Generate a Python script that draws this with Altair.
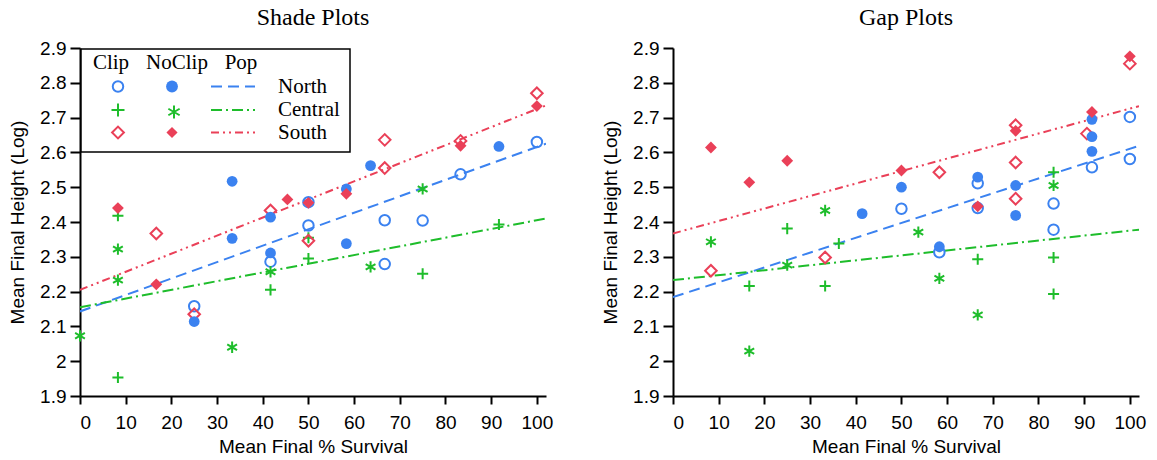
import altair as alt
import pandas as pd

# ---------------- data ----------------
pops = ["North", "Central", "South"]
pop_colors = ["#3b82f0", "#1ebd2b", "#ea4058"]

# Shade plots (left panel)
shade_clip_north_x = [25, 41.7, 50, 50, 66.7, 66.7, 75, 83.3, 100]
shade_clip_north_y = [2.158, 2.286, 2.39, 2.457, 2.405, 2.279, 2.404, 2.537, 2.63]
shade_noclip_north_x = [25, 33.3, 33.3, 41.7, 41.7, 58.3, 58.3, 63.6, 91.7]
shade_noclip_north_y = [2.114, 2.517, 2.353, 2.414, 2.311, 2.495, 2.338, 2.562, 2.617]
shade_clip_central_x = [8.3, 8.3, 41.7, 50, 50, 75, 91.7]
shade_clip_central_y = [2.418, 1.953, 2.205, 2.355, 2.295, 2.251, 2.393]
shade_noclip_central_x = [0, 8.3, 8.3, 33.3, 41.7, 63.6, 75]
shade_noclip_central_y = [2.073, 2.322, 2.233, 2.04, 2.257, 2.271, 2.495]
shade_clip_south_x = [16.7, 25, 41.7, 50, 66.7, 66.7, 83.3, 100]
shade_clip_south_y = [2.367, 2.135, 2.433, 2.346, 2.636, 2.555, 2.633, 2.77]
shade_noclip_south_x = [8.3, 16.7, 45.4, 50, 58.3, 83.3, 100]
shade_noclip_south_y = [2.44, 2.221, 2.465, 2.455, 2.481, 2.619, 2.733]

# Gap plots (right panel)
gap_clip_north_x = [50, 58.3, 66.7, 66.7, 83.3, 83.3, 91.7, 100, 100]
gap_clip_north_y = [2.438, 2.313, 2.511, 2.44, 2.453, 2.378, 2.557, 2.702, 2.581]
gap_noclip_north_x = [41.4, 50, 58.3, 66.7, 75, 75, 91.7, 91.7, 91.7]
gap_noclip_north_y = [2.424, 2.5, 2.329, 2.529, 2.505, 2.419, 2.695, 2.645, 2.603]
gap_clip_central_x = [16.7, 25, 33.3, 36.3, 66.7, 83.3, 83.3, 83.3]
gap_clip_central_y = [2.216, 2.381, 2.216, 2.338, 2.293, 2.543, 2.298, 2.193]
gap_noclip_central_x = [8.3, 16.7, 25, 33.3, 53.7, 58.3, 66.7, 83.3]
gap_noclip_central_y = [2.343, 2.029, 2.276, 2.433, 2.371, 2.238, 2.133, 2.505]
gap_clip_south_x = [8.3, 33.3, 58.3, 75, 75, 75, 90.6, 100]
gap_clip_south_y = [2.26, 2.298, 2.543, 2.678, 2.571, 2.467, 2.654, 2.855]
gap_noclip_south_x = [8.3, 16.7, 25, 50, 66.7, 75, 91.7, 100]
gap_noclip_south_y = [2.614, 2.514, 2.576, 2.548, 2.445, 2.662, 2.716, 2.876]

# regression lines: value at x = line_x[0] and line_x[1]
line_x = [0, 102]
shade_line_north = [2.143, 2.625]
shade_line_central = [2.155, 2.41]
shade_line_south = [2.205, 2.735]
gap_line_north = [2.184, 2.619]
gap_line_central = [2.233, 2.378]
gap_line_south = [2.367, 2.733]

x_ticks = list(range(0, 101, 10))
y_ticks = [1.9, 2.0, 2.1, 2.2, 2.3, 2.4, 2.5, 2.6, 2.7, 2.8, 2.9]

# ---------------- styles ----------------
PLUS = "M-1,0L1,0M0,-1L0,1"
AST = "M0,-1L0,1M-0.866,-0.5L0.866,0.5M-0.866,0.5L0.866,-0.5"
syms = ["Clip-North", "NoClip-North", "Clip-Central", "NoClip-Central", "Clip-South", "NoClip-South"]
sym_shapes = ["circle", "circle", PLUS, AST, "diamond", "diamond"]
sym_sizes = [110, 140, 169, 169, 140, 125]
dashes = [[11, 6], [11, 4, 2, 4], [8, 4, 2, 4, 2, 4]]

SERIF = "Liberation Serif"
SANS = "Liberation Sans"
W, H = 466, 348


def points_df(series):
    rows = []
    for grp, pop, xs, ys in series:
        for xv, yv in zip(xs, ys):
            rows.append({"x": xv, "y": yv, "pop": pop, "grp": grp, "sym": f"{grp}-{pop}"})
    return pd.DataFrame(rows)


def lines_df(lines):
    rows = []
    for pop, ys in lines:
        for xv, yv in zip(line_x, ys):
            rows.append({"x": xv, "y": yv, "pop": pop})
    return pd.DataFrame(rows)


shade_pts = points_df([
    ("Clip", "North", shade_clip_north_x, shade_clip_north_y),
    ("NoClip", "North", shade_noclip_north_x, shade_noclip_north_y),
    ("Clip", "Central", shade_clip_central_x, shade_clip_central_y),
    ("NoClip", "Central", shade_noclip_central_x, shade_noclip_central_y),
    ("Clip", "South", shade_clip_south_x, shade_clip_south_y),
    ("NoClip", "South", shade_noclip_south_x, shade_noclip_south_y),
])
gap_pts = points_df([
    ("Clip", "North", gap_clip_north_x, gap_clip_north_y),
    ("NoClip", "North", gap_noclip_north_x, gap_noclip_north_y),
    ("Clip", "Central", gap_clip_central_x, gap_clip_central_y),
    ("NoClip", "Central", gap_noclip_central_x, gap_noclip_central_y),
    ("Clip", "South", gap_clip_south_x, gap_clip_south_y),
    ("NoClip", "South", gap_noclip_south_x, gap_noclip_south_y),
])
shade_lines = lines_df([("North", shade_line_north), ("Central", shade_line_central), ("South", shade_line_south)])
gap_lines = lines_df([("North", gap_line_north), ("Central", gap_line_central), ("South", gap_line_south)])

X = alt.X("x:Q", scale=alt.Scale(domain=[0, 102], nice=False, zero=False),
          axis=alt.Axis(values=x_ticks, title="Mean Final % Survival", tickSize=8,
                        labelPadding=9, titlePadding=5))
Y = alt.Y("y:Q", scale=alt.Scale(domain=[1.9, 2.9], nice=False, zero=False),
          axis=alt.Axis(values=y_ticks, format=".1~f", title="Mean Final Height (Log)",
                        tickSize=10, labelPadding=4, titlePadding=12))
COLOR = alt.Color("pop:N", scale=alt.Scale(domain=pops, range=pop_colors), legend=None)
SHAPE = alt.Shape("sym:N", scale=alt.Scale(domain=syms, range=sym_shapes), legend=None)
SIZE = alt.Size("sym:N", scale=alt.Scale(domain=syms, range=sym_sizes), legend=None)
DASH = alt.StrokeDash("pop:N", scale=alt.Scale(domain=pops, range=dashes), legend=None)


def panel(pts, lns, title, legend=False):
    lines = alt.Chart(lns).mark_line(strokeWidth=2, clip=True).encode(
        x=X, y=Y, color=COLOR, strokeDash=DASH, detail="pop:N")
    stroked = alt.Chart(pts).transform_filter(
        "datum.grp == 'Clip' || datum.pop == 'Central'").mark_point(
        filled=False, strokeWidth=2, opacity=1).encode(
        x=X, y=Y, color=COLOR, shape=SHAPE, size=SIZE)
    filled = alt.Chart(pts).transform_filter(
        "datum.grp == 'NoClip' && datum.pop != 'Central'").mark_point(
        filled=True, opacity=1, strokeWidth=0).encode(
        x=X, y=Y, color=COLOR, shape=SHAPE, size=SIZE)
    layers = [lines, stroked, filled]
    if legend:
        one = pd.DataFrame({"k": [0]})
        layers.append(alt.Chart(one).mark_rect(fill="white", stroke="black", strokeWidth=1.5).encode(
            x=alt.value(1), x2=alt.value(270), y=alt.value(1), y2=alt.value(104)))
        for txt, cx in zip(["Clip", "NoClip", "Pop"], [31, 97, 161]):
            layers.append(alt.Chart(one).mark_text(text=txt, font=SERIF, fontSize=21, align="center",
                                                   baseline="middle", color="black").encode(
                x=alt.value(cx), y=alt.value(15)))
        row_y = [38.5, 62, 84.5]
        for i, pop in enumerate(pops):
            col = pop_colors[i]
            ry = row_y[i]
            noclip_sym = syms[2 * i + 1]
            layers.append(alt.Chart(one).mark_point(
                shape=sym_shapes[2 * i], size=sym_sizes[2 * i], filled=False, strokeWidth=2,
                color=col, opacity=1).encode(x=alt.value(38), y=alt.value(ry)))
            if noclip_sym != "NoClip-Central":
                layers.append(alt.Chart(one).mark_point(
                    shape=sym_shapes[2 * i + 1], size=sym_sizes[2 * i + 1], filled=True, strokeWidth=0,
                    color=col, opacity=1).encode(x=alt.value(92), y=alt.value(ry)))
            else:
                layers.append(alt.Chart(one).mark_point(
                    shape=sym_shapes[2 * i + 1], size=sym_sizes[2 * i + 1], filled=False, strokeWidth=2,
                    color=col, opacity=1).encode(x=alt.value(94), y=alt.value(ry + 2)))
            layers.append(alt.Chart(one).mark_rule(strokeWidth=2, color=col, strokeDash=dashes[i]).encode(
                x=alt.value(131), x2=alt.value(175), y=alt.value(ry)))
            layers.append(alt.Chart(one).mark_text(text=pop, font=SERIF, fontSize=21, align="left",
                                                   baseline="middle", color="black").encode(
                x=alt.value(198), y=alt.value(ry)))
    return alt.layer(*layers).properties(
        width=W, height=H,
        title=alt.TitleParams(title, font=SERIF, fontSize=24, fontWeight="normal",
                              anchor="middle", offset=9, color="black"))


left = panel(shade_pts, shade_lines, "Shade Plots", legend=True)
right = panel(gap_pts, gap_lines, "Gap Plots")

chart = alt.hconcat(left, right, spacing=48).properties(
    padding={"left": 8, "top": 6, "right": 5, "bottom": 5}
).configure_axis(
    grid=False, domainColor="black", domainWidth=2, tickColor="black", tickWidth=2,
    labelFont=SANS, labelFontSize=19, labelColor="black",
    titleFont=SANS, titleFontSize=19, titleFontWeight="normal", titleColor="black",
).configure_view(strokeWidth=0)

chart.save("out.html", embed_options={"renderer": "svg", "actions": False})
